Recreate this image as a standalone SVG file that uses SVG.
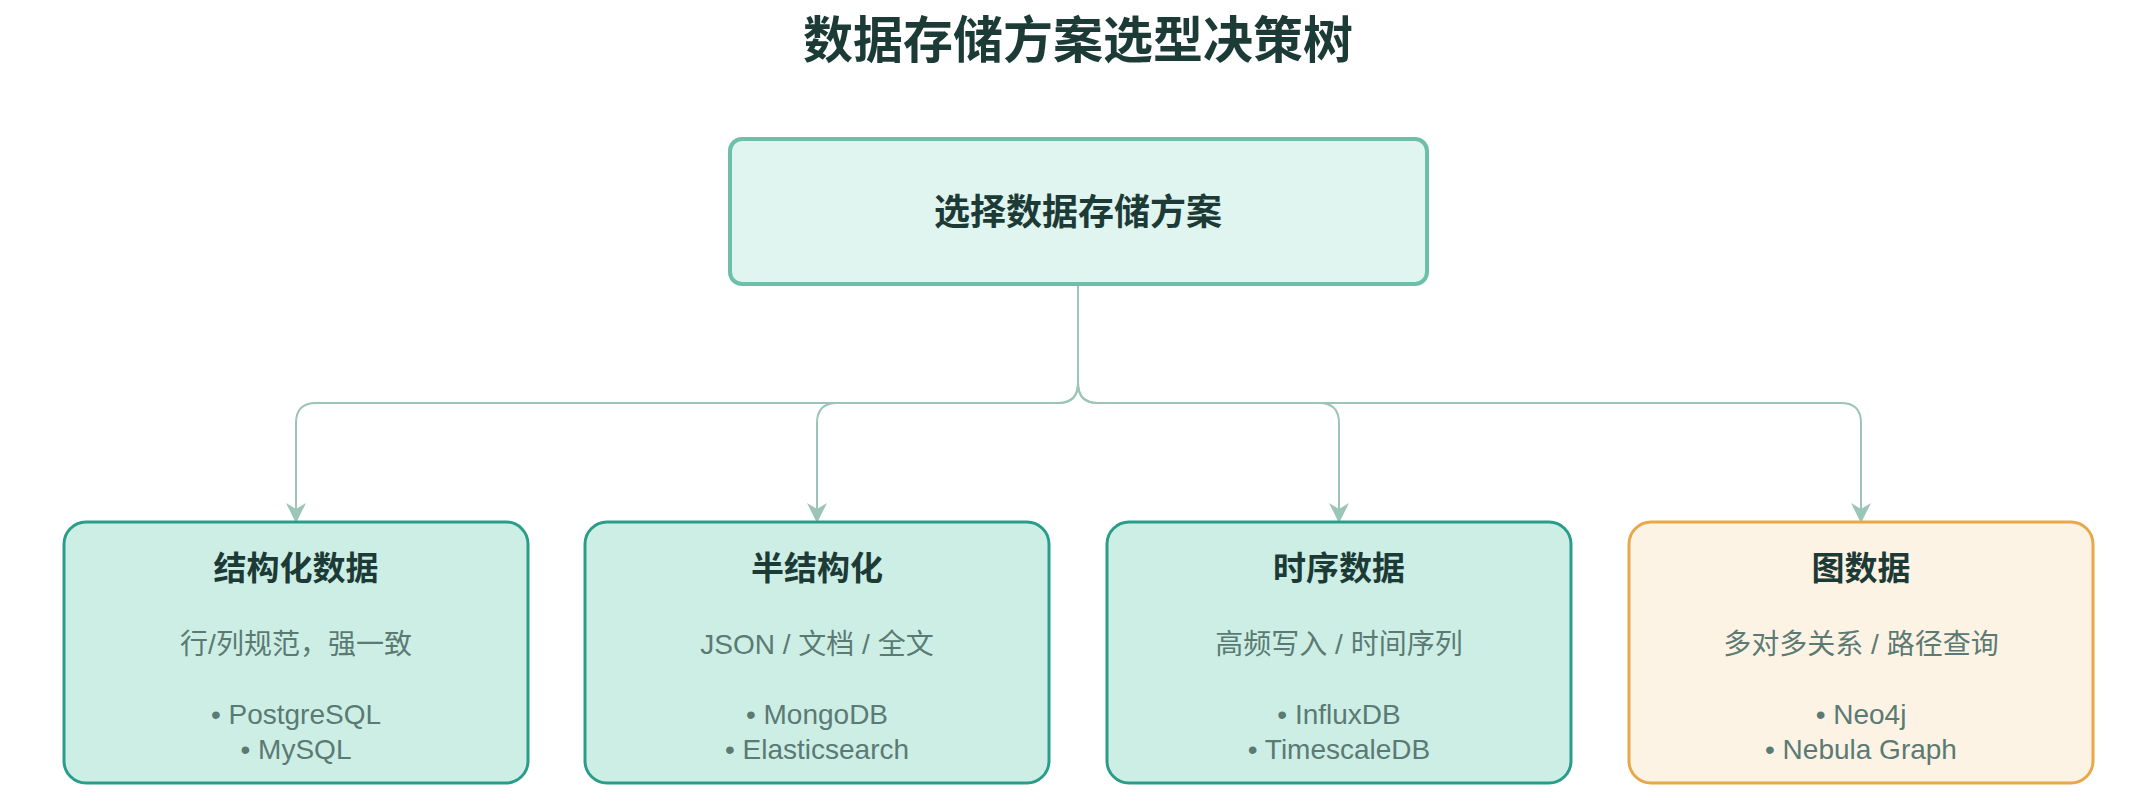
<svg xmlns="http://www.w3.org/2000/svg" width="2132" height="808" viewBox="0 0 2132 808">
<style>
text{font-family:"Liberation Sans","Noto Sans CJK SC",sans-serif;text-anchor:middle}
.t{font-weight:bold;fill:#1d3b36}
.s{font-size:28px;fill:#5b7a74}
.n{fill:#cdeee5;stroke:#2a9d8a;stroke-width:3}
.o{fill:#fdf3e4;stroke:#e8a84a;stroke-width:3}
.c{fill:none;stroke:#9cc5b8;stroke-width:2}
</style>
<defs><marker id="a" viewBox="0 0 10 10" refX="9" refY="5" markerWidth="20" markerHeight="20" markerUnits="userSpaceOnUse" orient="auto"><path d="M0,0 L10,5 L0,10 L3,5 Z" fill="#9cc5b8"/></marker></defs>
<rect width="2132" height="808" fill="#fff"/>
<text x="1078" y="58" class="t" font-size="50">数据存储方案选型决策树</text>
<g id="connectors">
<path class="c" marker-end="url(#a)" d="M1078 284 V383 Q1078 403 1058 403 H316 Q296 403 296 423 V521"/>
<path class="c" marker-end="url(#a)" d="M1078 284 V383 Q1078 403 1058 403 H837 Q817 403 817 423 V521"/>
<path class="c" marker-end="url(#a)" d="M1078 284 V383 Q1078 403 1098 403 H1319 Q1339 403 1339 423 V521"/>
<path class="c" marker-end="url(#a)" d="M1078 284 V383 Q1078 403 1098 403 H1841 Q1861 403 1861 423 V521"/>
</g>
<g id="root"><rect x="730" y="139" width="697" height="145" rx="12" fill="#e0f5ef" stroke="#6cc0aa" stroke-width="4"/><text x="1078" y="225" class="t" font-size="36">选择数据存储方案</text></g>
<g id="n1"><rect class="n" x="64" y="522" width="464" height="261" rx="22"/><text x="296" y="580" class="t" font-size="33">结构化数据</text><text x="296" y="654" class="s">行/列规范，强一致</text><text x="296" y="724" class="s">• PostgreSQL</text><text x="296" y="759" class="s">• MySQL</text></g>
<g id="n2"><rect class="n" x="585" y="522" width="464" height="261" rx="22"/><text x="817" y="580" class="t" font-size="33">半结构化</text><text x="817" y="654" class="s">JSON / 文档 / 全文</text><text x="817" y="724" class="s">• MongoDB</text><text x="817" y="759" class="s">• Elasticsearch</text></g>
<g id="n3"><rect class="n" x="1107" y="522" width="464" height="261" rx="22"/><text x="1339" y="580" class="t" font-size="33">时序数据</text><text x="1339" y="654" class="s">高频写入 / 时间序列</text><text x="1339" y="724" class="s">• InfluxDB</text><text x="1339" y="759" class="s">• TimescaleDB</text></g>
<g id="n4"><rect class="o" x="1629" y="522" width="464" height="261" rx="22"/><text x="1861" y="580" class="t" font-size="33">图数据</text><text x="1861" y="654" class="s">多对多关系 / 路径查询</text><text x="1861" y="724" class="s">• Neo4j</text><text x="1861" y="759" class="s">• Nebula Graph</text></g>
</svg>
